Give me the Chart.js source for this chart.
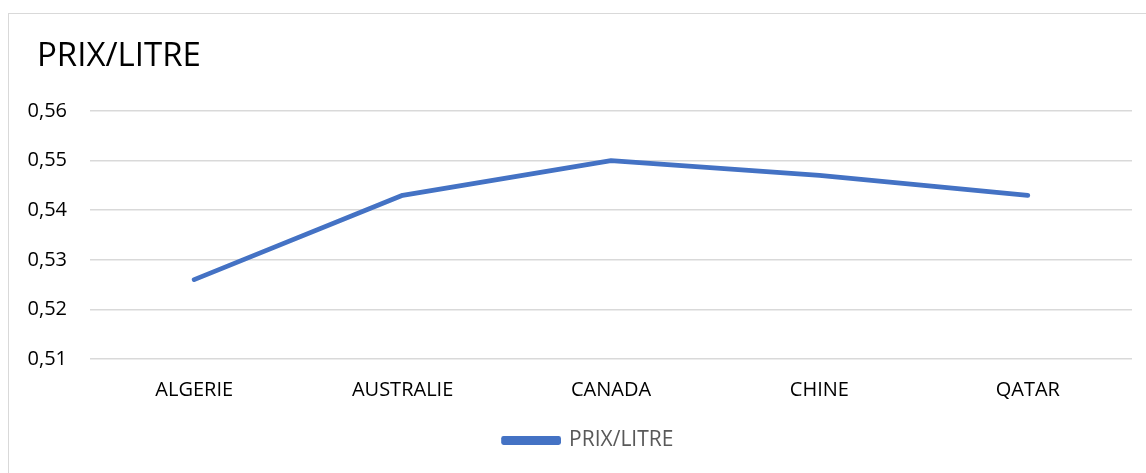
<!DOCTYPE html>
<html>
<head>
<meta charset="utf-8">
<script src="https://cdn.jsdelivr.net/npm/chart.js@4/dist/chart.umd.min.js"></script>
<style>
  html, body { margin: 0; background: #fff; overflow: hidden; }
  #box { position: absolute; left: 8px; top: 13px; width: 1150px; height: 470px; border: 1px solid #d9d9d9; box-sizing: border-box; }
  #wrap { position: absolute; left: 9px; top: 14px; width: 1155px; height: 459px; }
  #title { position: absolute; left: 37px; top: 37px; font: 33px/33px "Open Sans", sans-serif; color: #000; }
</style>
</head>
<body>
<div id="box"></div>
<div id="wrap"><canvas id="chart"></canvas></div>
<div id="title">PRIX/LITRE</div>
<script>
// categories and values
const countries = ['ALGERIE', 'AUSTRALIE', 'CANADA', 'CHINE', 'QATAR'];
const prixLitre = [0.526, 0.543, 0.550, 0.547, 0.543];

const FONT = '"Open Sans", "Liberation Sans", sans-serif';
const BLUE = '#4472c4';

new Chart(document.getElementById('chart'), {
    type: 'line',
    data: {
        labels: countries,
        datasets: [{
            label: 'PRIX/LITRE',
            data: prixLitre,
            borderColor: BLUE,
            backgroundColor: BLUE,
            borderWidth: 4.8,
            borderCapStyle: 'round',
            borderJoinStyle: 'round',
            pointRadius: 0,
            tension: 0
        }]
    },
    options: {
        responsive: true,
        maintainAspectRatio: false,
        animation: false,
        layout: { padding: { left: 18, right: 14, top: 97, bottom: 12 } },
        plugins: {
            legend: {
                position: 'bottom',
                labels: {
                    color: '#595959',
                    font: { family: FONT, size: 21 },
                    boxWidth: 55,
                    boxHeight: 4,
                    padding: 10
                }
            },
            tooltip: { enabled: false }
        },
        scales: {
            x: {
                offset: true,
                grid: { display: false, drawTicks: false },
                border: { display: false },
                ticks: { color: '#000', font: { family: FONT, size: 20 }, padding: 19 },
                afterFit: s => { s.height = 61; }
            },
            y: {
                min: 0.51,
                max: 0.56,
                ticks: {
                    stepSize: 0.01,
                    color: '#000',
                    font: { family: FONT, size: 20 },
                    padding: 23,
                    callback: v => v.toFixed(2).replace('.', ',')
                },
                grid: { color: '#d9d9d9', lineWidth: 1.5, drawTicks: false },
                border: { display: false },
                afterFit: s => { s.width = 63; }
            },
            // empty spacer on the right so the legend sits where the reference has it
            spacer: {
                type: 'linear',
                position: 'right',
                grid: { display: false, drawTicks: false },
                border: { display: false },
                ticks: { display: false },
                afterFit: s => { s.width = 18; }
            }
        }
    }
});
</script>
</body>
</html>
